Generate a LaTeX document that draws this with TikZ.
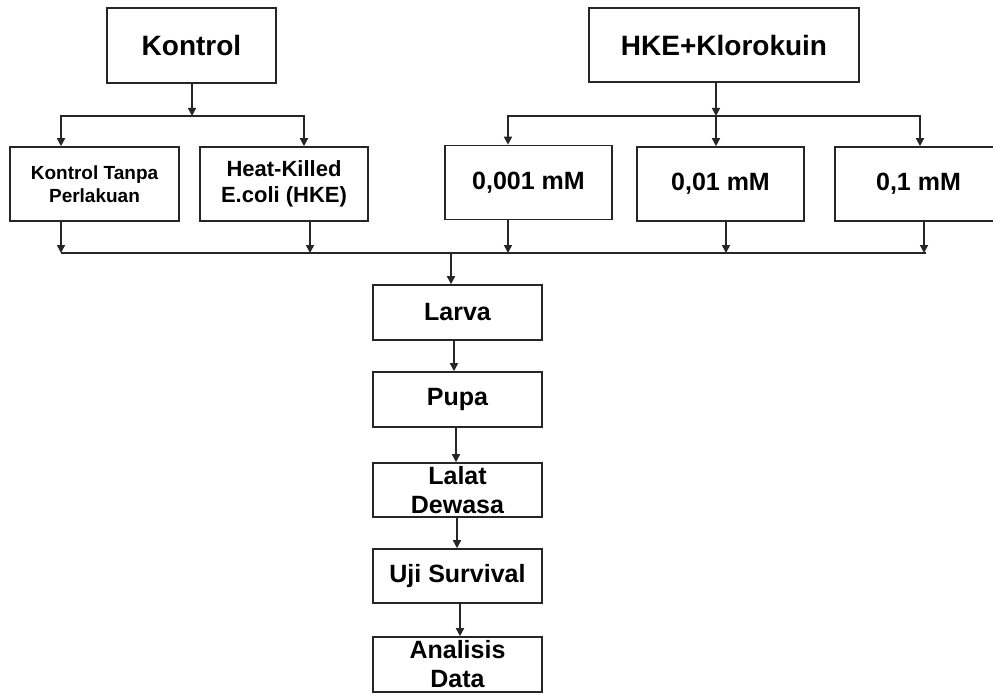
\documentclass[tikz,border=0pt]{standalone}
\usepackage{fontspec}
\setmainfont{Liberation Sans}
\usetikzlibrary{arrows.meta}
\begin{document}
\begin{tikzpicture}[x=1pt,y=-1pt,
  box/.style={draw=black!85, line width=1.6pt, rectangle, inner sep=0pt, align=center, font=\bfseries},
  ln/.style={draw=black!85, line width=1.6pt},
  arr/.style={ln, -{Triangle[length=8pt,width=8pt]}},
  fbig/.style={font=\bfseries\fontsize{28}{32}\selectfont},
  fmid/.style={font=\bfseries\fontsize{25}{29}\selectfont},
  fhk/.style={font=\bfseries\fontsize{22}{26}\selectfont},
  fkt/.style={font=\bfseries\fontsize{19}{23}\selectfont},
  wbox/.style={minimum width=169pt, minimum height=74pt},
  cbox/.style={minimum width=167pt, minimum height=74pt},
  sbox/.style={minimum width=169pt, minimum height=55pt}]
\useasboundingbox (0,0) rectangle (993,695);
\begin{scope}
\clip (0,0) rectangle (993,695);
\fill[white] (0,0) rectangle (993,695);
% top row
\node[box, fbig, minimum width=169pt, minimum height=75pt] (kontrol) at (191.5,45.5) {Kontrol};
\node[box, fbig, minimum width=270pt, minimum height=74pt] (hke) at (724,45) {HKE+Klorokuin};
% second row
\node[box, fkt, wbox] (kt) at (94.5,184) {Kontrol Tanpa\\Perlakuan};
\node[box, fhk, minimum width=168pt, minimum height=74pt] (hk) at (284,184) {Heat-Killed\\E.coli (HKE)};
\node[box, fmid, cbox] (c1) at (528.5,182.5) {0,001 mM};
\node[box, fmid, cbox] (c2) at (720.5,184) {0,01 mM};
\node[box, fmid, cbox] (c3) at (918.5,184) {0,1 mM};
% chain
\node[box, fmid, sbox] (larva) at (457.5,312.5) {Larva};
\node[box, fmid, sbox] (pupa) at (457.5,399.5) {Pupa};
\node[box, fmid, minimum width=169pt, minimum height=54pt] (lalat) at (457.5,490) {Lalat\\Dewasa};
\node[box, fmid, minimum width=169pt, minimum height=54pt] (uji) at (457.5,576) {Uji Survival};
\node[box, fmid, sbox] (analisis) at (457.5,664.5) {Analisis\\Data};
% bus coordinates
\coordinate (b1) at (0,116);
\coordinate (b2) at (0,253);
% Kontrol split
\draw[arr] ([xshift=0.5pt]kontrol.south) -- ([xshift=0.5pt]kontrol.south |- b1);
\draw[arr] ([xshift=0.5pt]kontrol.south |- b1) -| ([xshift=-33.5pt]kt.north);
\draw[arr] ([xshift=0.5pt]kontrol.south |- b1) -| ([xshift=20pt]hk.north);
% HKE split
\draw[arr] ([xshift=-8pt]hke.south) -- ([xshift=-8pt]hke.south |- b1);
\draw[arr] ([xshift=-8pt]hke.south |- b1) -| ([xshift=-20.5pt]c1.north);
\draw[arr] ([xshift=-8pt]hke.south |- b1) -- ([xshift=-4.5pt]c2.north);
\draw[arr] ([xshift=-8pt]hke.south |- b1) -| ([xshift=1.5pt]c3.north);
% merge
\draw[arr] ([xshift=-33.5pt]kt.south) -- ([xshift=-33.5pt]kt.south |- b2);
\draw[arr] ([xshift=26pt]hk.south) -- ([xshift=26pt]hk.south |- b2);
\draw[arr] ([xshift=-20.5pt]c1.south) -- ([xshift=-20.5pt]c1.south |- b2);
\draw[arr] ([xshift=5.5pt]c2.south) -- ([xshift=5.5pt]c2.south |- b2);
\draw[arr] ([xshift=5.5pt]c3.south) -- ([xshift=5.5pt]c3.south |- b2);
\draw[ln] ([xshift=-33.5pt]kt.south |- b2) -- ([xshift=7.5pt]c3.south |- b2);
\draw[arr] ([xshift=-6.5pt]larva.north |- b2) -- ([xshift=-6.5pt]larva.north);
% chain
\draw[arr] ([xshift=-3.5pt]larva.south) -- ([xshift=-3.5pt]pupa.north);
\draw[arr] ([xshift=-1.5pt]pupa.south) -- ([xshift=-1.5pt]lalat.north);
\draw[arr] ([xshift=-0.5pt]lalat.south) -- ([xshift=-0.5pt]uji.north);
\draw[arr] ([xshift=2.5pt]uji.south) -- ([xshift=2.5pt]analisis.north);
\end{scope}
\end{tikzpicture}
\end{document}
